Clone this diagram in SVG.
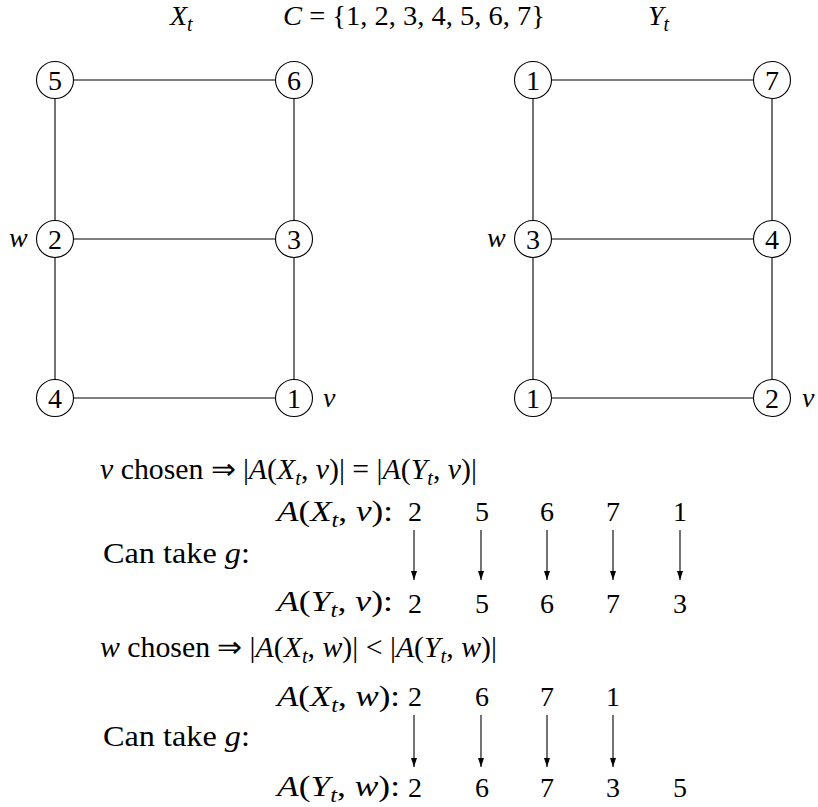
<svg xmlns="http://www.w3.org/2000/svg" width="818" height="807" viewBox="0 0 818 807">
<style>
text{font-family:"Liberation Serif","Times New Roman",serif;font-size:28px;fill:#000}
.lg{font-size:29px}
.i{font-style:italic}
.sub{font-size:20px;font-style:italic}
.node circle{fill:#fff;stroke:#000;stroke-width:1.1}
.num{text-anchor:middle}
.edge{stroke:#000;stroke-width:1.1;fill:none}
.arr{stroke:#000;stroke-width:1.1;fill:none;marker-end:url(#ah)}
</style>
<defs>
<marker id="ah" markerWidth="9" markerHeight="8" refX="9" refY="3" orient="auto" markerUnits="userSpaceOnUse" viewBox="0 0 9 6">
<path d="M0,0 L9,3 L0,6 Z" fill="#000"/>
</marker>
</defs>
<rect width="818" height="807" fill="#fff"/>

<!-- titles -->
<text x="170" y="25"><tspan class="i">X</tspan><tspan class="sub" dy="6">t</tspan></text>
<text x="283" y="25" textLength="262" lengthAdjust="spacingAndGlyphs"><tspan class="i">C</tspan> = {1, 2, 3, 4, 5, 6, 7}</text>
<text x="648" y="25"><tspan class="i">Y</tspan><tspan class="sub" dy="6">t</tspan></text>

<!-- connectors -->
<g id="edges">
<line class="edge" x1="73.5" y1="80" x2="275.5" y2="80"/>
<line class="edge" x1="73.5" y1="239" x2="275.5" y2="239"/>
<line class="edge" x1="73.5" y1="398" x2="275.5" y2="398"/>
<line class="edge" x1="55" y1="98.5" x2="55" y2="220.5"/>
<line class="edge" x1="55" y1="257.5" x2="55" y2="379.5"/>
<line class="edge" x1="294" y1="98.5" x2="294" y2="220.5"/>
<line class="edge" x1="294" y1="257.5" x2="294" y2="379.5"/>
<line class="edge" x1="551.5" y1="80" x2="753.5" y2="80"/>
<line class="edge" x1="551.5" y1="239" x2="753.5" y2="239"/>
<line class="edge" x1="551.5" y1="398" x2="753.5" y2="398"/>
<line class="edge" x1="533" y1="98.5" x2="533" y2="220.5"/>
<line class="edge" x1="533" y1="257.5" x2="533" y2="379.5"/>
<line class="edge" x1="772" y1="98.5" x2="772" y2="220.5"/>
<line class="edge" x1="772" y1="257.5" x2="772" y2="379.5"/>
</g>

<!-- left graph X_t -->
<g id="x5" class="node"><circle cx="55" cy="80" r="18.5"/><text class="num" x="55" y="89.5">5</text></g>
<g id="x6" class="node"><circle cx="294" cy="80" r="18.5"/><text class="num" x="294" y="89.5">6</text></g>
<g id="x2" class="node"><circle cx="55" cy="239" r="18.5"/><text class="num" x="55" y="248.5">2</text><text class="i" x="9" y="247">w</text></g>
<g id="x3" class="node"><circle cx="294" cy="239" r="18.5"/><text class="num" x="294" y="248.5">3</text></g>
<g id="x4" class="node"><circle cx="55" cy="398" r="18.5"/><text class="num" x="55" y="407.5">4</text></g>
<g id="x1" class="node"><circle cx="294" cy="398" r="18.5"/><text class="num" x="294" y="407.5">1</text><text class="i" x="323" y="407">v</text></g>

<!-- right graph Y_t -->
<g id="y1a" class="node"><circle cx="533" cy="80" r="18.5"/><text class="num" x="533" y="89.5">1</text></g>
<g id="y7" class="node"><circle cx="772" cy="80" r="18.5"/><text class="num" x="772" y="89.5">7</text></g>
<g id="y3" class="node"><circle cx="533" cy="239" r="18.5"/><text class="num" x="533" y="248.5">3</text><text class="i" x="487" y="247">w</text></g>
<g id="y4" class="node"><circle cx="772" cy="239" r="18.5"/><text class="num" x="772" y="248.5">4</text></g>
<g id="y1b" class="node"><circle cx="533" cy="398" r="18.5"/><text class="num" x="533" y="407.5">1</text></g>
<g id="y2" class="node"><circle cx="772" cy="398" r="18.5"/><text class="num" x="772" y="407.5">2</text><text class="i" x="802" y="407">v</text></g>

<!-- v chosen block -->
<text class="lg" x="100" y="479" textLength="377" lengthAdjust="spacingAndGlyphs"><tspan class="i">v</tspan> chosen ⇒ |<tspan class="i">A</tspan>(<tspan class="i">X</tspan><tspan class="sub" dy="6">t</tspan><tspan dy="-6">, </tspan><tspan class="i">v</tspan>)| = |<tspan class="i">A</tspan>(<tspan class="i">Y</tspan><tspan class="sub" dy="6">t</tspan><tspan dy="-6">, </tspan><tspan class="i">v</tspan>)|</text>
<text class="lg" x="277" y="521" textLength="116" lengthAdjust="spacingAndGlyphs"><tspan class="i">A</tspan>(<tspan class="i">X</tspan><tspan class="sub" dy="6">t</tspan><tspan dy="-6">, </tspan><tspan class="i">v</tspan>):</text>
<g class="num">
<text x="415" y="521">2</text><text x="482" y="521">5</text><text x="547" y="521">6</text><text x="613" y="521">7</text><text x="680" y="521">1</text>
</g>
<text class="lg" x="103" y="563" textLength="147" lengthAdjust="spacingAndGlyphs">Can take <tspan class="i">g</tspan>:</text>
<g id="arrows-v">
<line class="arr" x1="414" y1="530" x2="414" y2="580"/>
<line class="arr" x1="481" y1="530" x2="481" y2="580"/>
<line class="arr" x1="547" y1="530" x2="547" y2="580"/>
<line class="arr" x1="613" y1="530" x2="613" y2="580"/>
<line class="arr" x1="680" y1="530" x2="680" y2="580"/>
</g>
<text class="lg" x="277" y="611" textLength="116" lengthAdjust="spacingAndGlyphs"><tspan class="i">A</tspan>(<tspan class="i">Y</tspan><tspan class="sub" dy="6">t</tspan><tspan dy="-6">, </tspan><tspan class="i">v</tspan>):</text>
<g class="num">
<text x="415" y="613">2</text><text x="482" y="613">5</text><text x="547" y="613">6</text><text x="613" y="613">7</text><text x="680" y="613">3</text>
</g>

<!-- w chosen block -->
<text class="lg" x="100" y="657" textLength="397" lengthAdjust="spacingAndGlyphs"><tspan class="i">w</tspan> chosen ⇒ |<tspan class="i">A</tspan>(<tspan class="i">X</tspan><tspan class="sub" dy="6">t</tspan><tspan dy="-6">, </tspan><tspan class="i">w</tspan>)| &lt; |<tspan class="i">A</tspan>(<tspan class="i">Y</tspan><tspan class="sub" dy="6">t</tspan><tspan dy="-6">, </tspan><tspan class="i">w</tspan>)|</text>
<text class="lg" x="277" y="706" textLength="123" lengthAdjust="spacingAndGlyphs"><tspan class="i">A</tspan>(<tspan class="i">X</tspan><tspan class="sub" dy="6">t</tspan><tspan dy="-6">, </tspan><tspan class="i">w</tspan>):</text>
<g class="num">
<text x="415" y="706">2</text><text x="482" y="706">6</text><text x="547" y="706">7</text><text x="613" y="706">1</text>
</g>
<text class="lg" x="103" y="746" textLength="147" lengthAdjust="spacingAndGlyphs">Can take <tspan class="i">g</tspan>:</text>
<g id="arrows-w">
<line class="arr" x1="414" y1="715" x2="414" y2="767"/>
<line class="arr" x1="481" y1="715" x2="481" y2="767"/>
<line class="arr" x1="547" y1="715" x2="547" y2="767"/>
<line class="arr" x1="613" y1="715" x2="613" y2="767"/>
</g>
<text class="lg" x="277" y="796" textLength="123" lengthAdjust="spacingAndGlyphs"><tspan class="i">A</tspan>(<tspan class="i">Y</tspan><tspan class="sub" dy="6">t</tspan><tspan dy="-6">, </tspan><tspan class="i">w</tspan>):</text>
<g class="num">
<text x="415" y="797">2</text><text x="482" y="797">6</text><text x="547" y="797">7</text><text x="613" y="797">3</text><text x="680" y="797">5</text>
</g>
</svg>
